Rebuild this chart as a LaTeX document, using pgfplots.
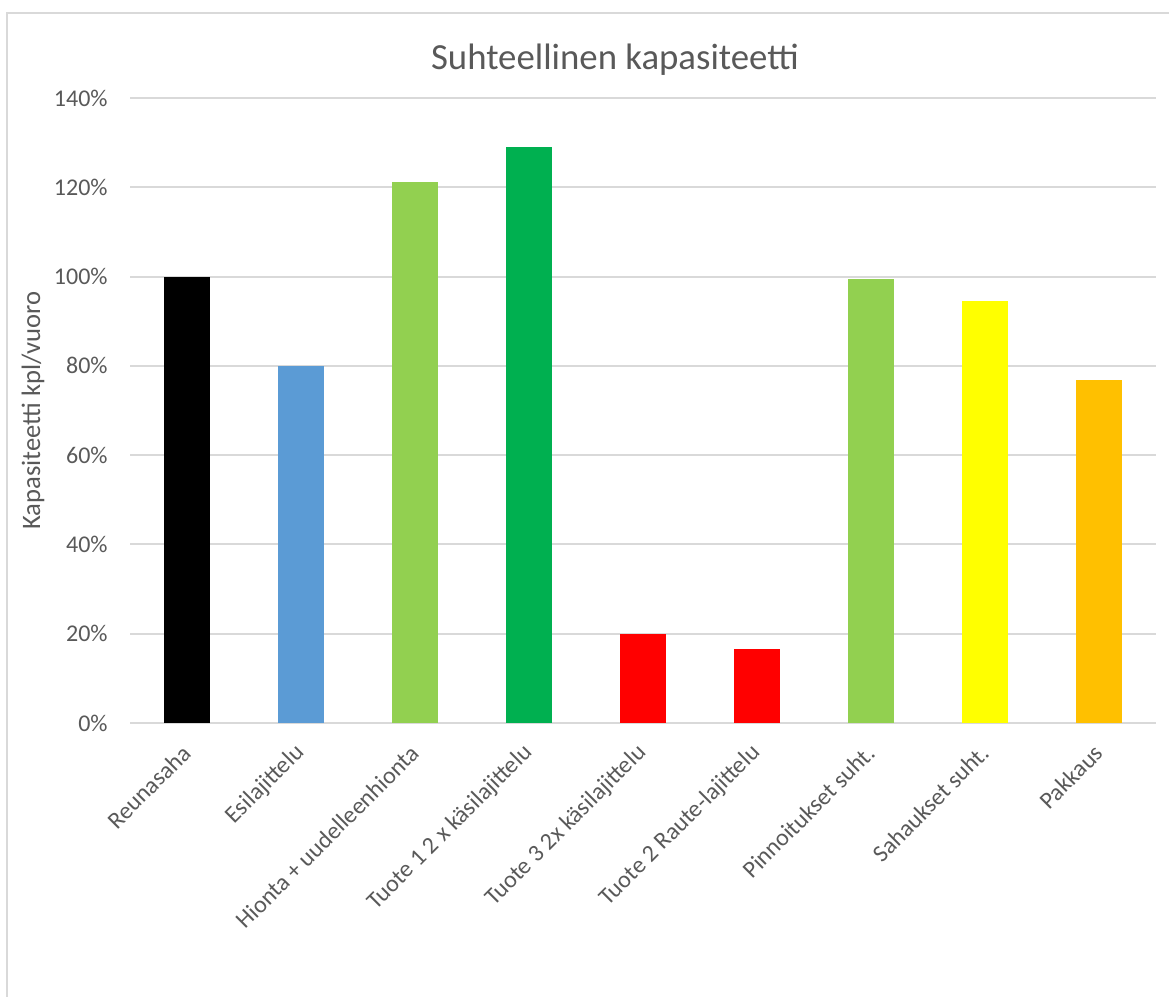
\documentclass[border=0pt]{standalone}
\usepackage{pgfplots}
\pgfplotsset{compat=1.18}
\usepackage{fontspec}
\setmainfont{Carlito}
\definecolor{txt}{HTML}{595959}
\definecolor{gridc}{HTML}{D9D9D9}
\definecolor{cblue}{HTML}{5B9BD5}
\definecolor{clgreen}{HTML}{92D050}
\definecolor{cgreen}{HTML}{00B050}
\definecolor{cred}{HTML}{FF0000}
\definecolor{cyellow}{HTML}{FFFF00}
\definecolor{corange}{HTML}{FFC000}
\begin{document}
\begin{tikzpicture}
\path[use as bounding box] (0,0) rectangle (584.5pt,498.5pt);
\draw[draw=gridc, line width=1pt] (3.5pt,0) -- (3.5pt,492pt) -- (584.5pt,492pt);
\begin{axis}[
  at={(65pt,137pt)}, anchor=south west,
  scale only axis, width=513pt, height=312.5pt,
  xmin=-0.5, xmax=8.5, ymin=0, ymax=140,
  ytick={0,20,...,140},
  yticklabel={\pgfmathprintnumber{\tick}\%},
  /pgf/number format/assume math mode=true,
  xtick={0,...,8},
  xticklabels={Reunasaha,Esilajittelu,Hionta + uudelleenhionta,Tuote 1 2 x käsilajittelu,Tuote 3 2x käsilajittelu,Tuote 2 Raute-lajittelu,Pinnoitukset suht.,Sahaukset suht.,Pakkaus},
  xticklabel style={rotate=45, anchor=east, inner sep=0pt, font=\fontsize{12pt}{14pt}\selectfont, text=txt},
  xticklabel shift=13pt,
  yticklabel style={font=\fontsize{12pt}{14pt}\selectfont, text=txt, inner sep=0pt},
  yticklabel shift=11pt,
  axis line style={draw=none},
  major tick length=0pt,
  xmajorgrids=false, ymajorgrids=true, grid style={draw=gridc, line width=1pt},
  every axis title shift=0pt,
  title={Suhteellinen kapasiteetti},
  title style={at={(axis description cs:0.4727,1.0608)}, anchor=center, font=\fontsize{18.4pt}{22pt}\selectfont, text=txt},
  ylabel={Kapasiteetti kpl/vuoro},
  ylabel style={at={(axis description cs:-0.0945,0.5)}, anchor=center, font=\fontsize{13.3pt}{16pt}\selectfont, text=txt},
  ybar, bar width=23pt, bar shift=0pt,
  clip=false,
]
\pgfplotsset{every axis plot/.append style={draw=none}}
\addplot[fill=black] coordinates {(0,100)};
\addplot[fill=cblue] coordinates {(1,80)};
\addplot[fill=clgreen] coordinates {(2,121.2)};
\addplot[fill=cgreen] coordinates {(3,129)};
\addplot[fill=cred] coordinates {(4,19.9)};
\addplot[fill=cred] coordinates {(5,16.6)};
\addplot[fill=clgreen] coordinates {(6,99.5)};
\addplot[fill=cyellow] coordinates {(7,94.5)};
\addplot[fill=corange] coordinates {(8,76.8)};
\end{axis}
\end{tikzpicture}
\end{document}
